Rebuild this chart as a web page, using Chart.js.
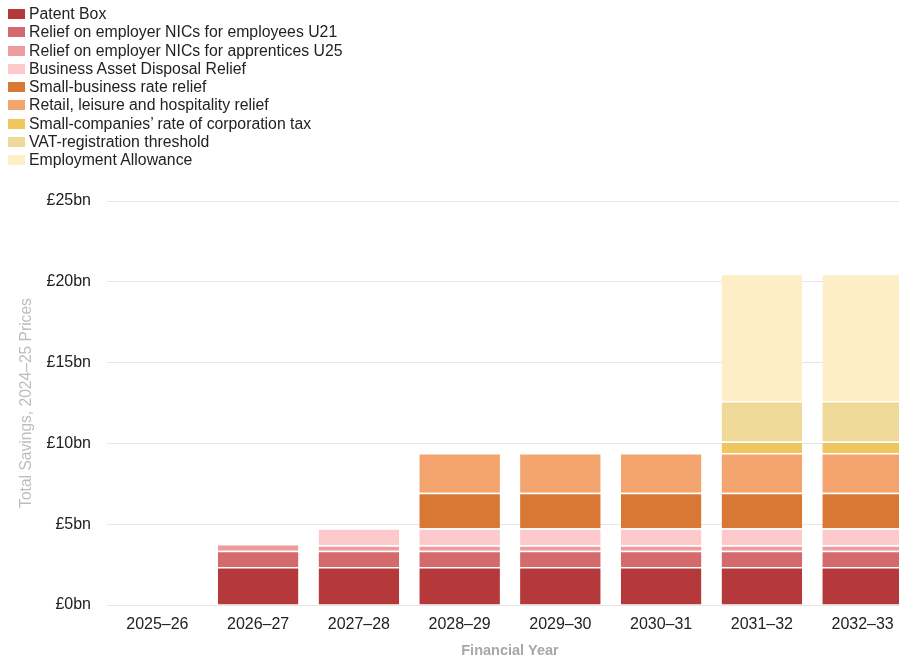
<!DOCTYPE html>
<html>
<head>
<meta charset="utf-8">
<script src="https://cdn.jsdelivr.net/npm/chart.js@4.4.1/dist/chart.umd.min.js"></script>
<style>
  html, body { margin: 0; padding: 0; background: #fff; overflow: hidden; width: 899px; height: 661px; }
  #wrap { position: relative; width: 913px; height: 661px; }
  #c { position: absolute; left: 0; top: 0; }
  #legend { position: absolute; left: 8px; top: 5px; font-family: "Liberation Sans", Arial, sans-serif; font-size: 15.8px; color: #222; z-index: 2; }
  .li { height: 18.25px; line-height: 18.25px; display: flex; align-items: center; white-space: nowrap; }
  .sw { width: 17px; height: 10px; margin-right: 4px; flex: none; }
</style>
</head>
<body>
<div id="wrap">
  <div id="legend"></div>
  <canvas id="c" width="913" height="661"></canvas>
</div>
<script>
const categories = ["2025–26", "2026–27", "2027–28", "2028–29", "2029–30", "2030–31", "2031–32", "2032–33"];
const seriesNames = [
  "Patent Box",
  "Relief on employer NICs for employees U21",
  "Relief on employer NICs for apprentices U25",
  "Business Asset Disposal Relief",
  "Small-business rate relief",
  "Retail, leisure and hospitality relief",
  "Small-companies’ rate of corporation tax",
  "VAT-registration threshold",
  "Employment Allowance"
];
const patentBox = [null, 2.35, 2.35, 2.35, 2.35, 2.35, 2.35, 2.35];
const nicsU21 = [null, 1.0, 1.0, 1.0, 1.0, 1.0, 1.0, 1.0];
const nicsU25 = [null, 0.42, 0.35, 0.35, 0.35, 0.35, 0.35, 0.35];
const badr = [null, null, 1.05, 1.05, 1.05, 1.05, 1.05, 1.05];
const smallBusinessRates = [null, null, null, 2.2, 2.2, 2.2, 2.2, 2.2];
const retailLeisure = [null, null, null, 2.45, 2.45, 2.45, 2.45, 2.45];
const smallCompaniesCT = [null, null, null, null, null, null, 0.72, 0.72];
const vatThreshold = [null, null, null, null, null, null, 2.5, 2.5];
const employmentAllowance = [null, null, null, null, null, null, 7.88, 7.88];
const yTicks = [0, 5, 10, 15, 20, 25];

const seriesValues = [patentBox, nicsU21, nicsU25, badr, smallBusinessRates, retailLeisure, smallCompaniesCT, vatThreshold, employmentAllowance];
const colors = ["#b5393a", "#d46a6c", "#ec9c9d", "#fdc9ca", "#d97835", "#f3a46f", "#efc75e", "#efd998", "#fdeec8"];

const datasets = seriesNames.map((name, i) => ({
  label: name,
  data: seriesValues[i],
  backgroundColor: colors[i],
  borderColor: "#ffffff",
  borderWidth: { top: 1.5, left: 0, right: 0, bottom: 0 },
  borderSkipped: false,
  categoryPercentage: 1.0,
  barPercentage: 0.8
}));

const FONT = "'Liberation Sans', Arial, sans-serif";

const chart = new Chart(document.getElementById("c"), {
  type: "bar",
  data: { labels: categories, datasets },
  options: {
    responsive: false,
    animation: false,
    layout: { padding: { top: 201, left: 0, right: 0, bottom: 0 } },
    plugins: { legend: { display: false }, tooltip: { enabled: false } },
    scales: {
      x: {
        stacked: true,
        grid: { display: false, drawTicks: false },
        border: { display: false },
        ticks: { color: "#222", font: { family: FONT, size: 16 }, padding: 10, maxRotation: 0 },
        title: { display: true, text: "Financial Year", color: "#a8a8a8", font: { family: FONT, size: 14.5, weight: "bold" }, padding: { top: 8, bottom: 1 } },
        afterFit: (s) => { s.height = 56; }
      },
      y: {
        stacked: true,
        min: 0,
        max: 25,
        afterBuildTicks: (s) => { s.ticks = yTicks.map(v => ({ value: v })); },
        grid: { color: "#e6e6e6", drawTicks: false, lineWidth: 1 },
        border: { display: false },
        ticks: { color: "#222", font: { family: FONT, size: 16 }, padding: 16, callback: (v) => "£" + v + "bn" },
        title: { display: true, text: "Total Savings, 2024–25 Prices", color: "#bdbdbd", font: { family: FONT, size: 15.6 }, padding: { top: 17, bottom: 0 } },
        afterFit: (s) => { s.width = 107; }
      }
    }
  }
});

const legend = document.getElementById("legend");
chart.data.datasets.forEach(ds => {
  const row = document.createElement("div");
  row.className = "li";
  const sw = document.createElement("span");
  sw.className = "sw";
  sw.style.background = ds.backgroundColor;
  const t = document.createElement("span");
  t.textContent = ds.label;
  row.appendChild(sw);
  row.appendChild(t);
  legend.appendChild(row);
});
</script>
</body>
</html>
